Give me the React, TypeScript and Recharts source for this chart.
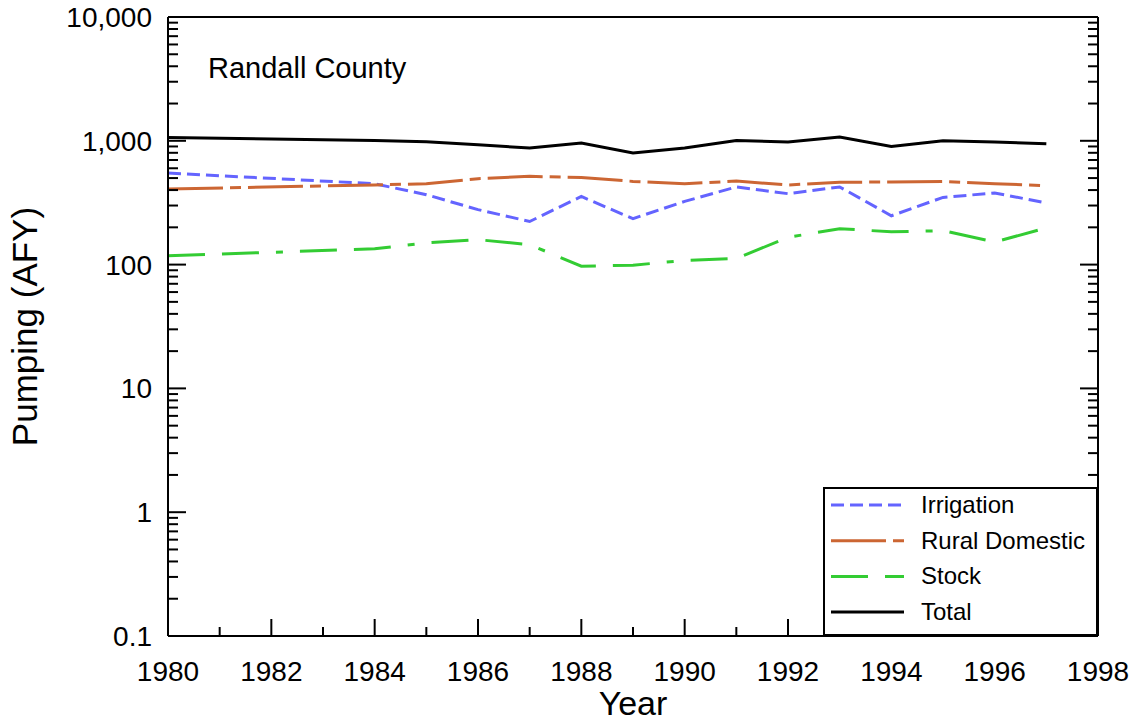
import React from 'react';
import { LineChart, Line, XAxis, YAxis, Legend } from 'recharts';

// Randall County pumping, acre-feet per year (no records 1981-1983)
const years = [1980, 1984, 1985, 1986, 1987, 1988, 1989, 1990, 1991, 1992, 1993, 1994, 1995, 1996, 1997];
const irrigation = [549, 450, 367, 278, 223, 355, 235, 324, 424, 374, 424, 248, 349, 379, 315];
const ruralDomestic = [408, 440, 450, 494, 516, 506, 470, 450, 473, 440, 462, 465, 470, 450, 434];
const stock = [118, 134, 150, 159, 145, 97, 99, 108, 112, 166, 195, 184, 188, 152, 198];
const total = [1063, 1006, 981, 928, 873, 958, 796, 873, 1006, 976, 1071, 900, 1000, 976, 946];

const majorYTicks = [0.1, 1, 10, 100, 1000, 10000];
const minorSteps = [2, 3, 4, 5, 6, 7, 8, 9];
const xTicks = [1980, 1981, 1982, 1983, 1984, 1985, 1986, 1987, 1988, 1989, 1990, 1991, 1992, 1993, 1994, 1995, 1996, 1997, 1998];
const xLabelYears = [1980, 1982, 1984, 1986, 1988, 1990, 1992, 1994, 1996, 1998];

const yTicks = majorYTicks.flatMap((m, i) =>
  i < majorYTicks.length - 1 ? [m, ...minorSteps.map(s => +(m * s).toPrecision(3))] : [m]
);

const series = [
  { key: 'irrigation', name: 'Irrigation', color: '#6464ff', dash: '13 6' },
  { key: 'rural', name: 'Rural Domestic', color: '#cc6633', dash: '55 7 11 7' },
  { key: 'stock', name: 'Stock', color: '#33cc33', dash: '37 17 37 17 7 17' },
  { key: 'total', name: 'Total', color: '#000000', dash: undefined as string | undefined },
];

const data = years.map((year, i) => ({
  year,
  irrigation: irrigation[i],
  rural: ruralDomestic[i],
  stock: stock[i],
  total: total[i],
}));

const FONT = '"Liberation Sans", Arial, Helvetica, sans-serif';
const axisLine = { stroke: '#000', strokeWidth: 2 };

const isMajorY = (v: number) => majorYTicks.some(m => Math.abs(m - v) < 1e-9);
const fmtY = (v: number) => (v >= 1000 ? v.toLocaleString('en-US') : String(v));

const LeftTick = ({ x, y, payload }: any) => {
  const major = isMajorY(payload.value);
  return (
    <g>
      <line x1={x} y1={y} x2={x + (major ? 18 : 10)} y2={y} stroke="#000" strokeWidth={2} />
      {major && (
        <text x={x - 16} y={y + 10} textAnchor="end" fontSize={28} fontFamily={FONT} fill="#000">
          {fmtY(payload.value)}
        </text>
      )}
    </g>
  );
};

const RightTick = ({ x, y, payload }: any) => {
  const major = isMajorY(payload.value);
  return <line x1={x} y1={y} x2={x - (major ? 18 : 10)} y2={y} stroke="#000" strokeWidth={2} />;
};

const BottomTick = ({ x, y, payload }: any) => {
  const major = xLabelYears.includes(payload.value);
  return (
    <g>
      <line x1={x} y1={y} x2={x} y2={y - (major ? 17 : 9)} stroke="#000" strokeWidth={2} />
      {major && (
        <text x={x} y={y + 45} textAnchor="middle" fontSize={28} fontFamily={FONT} fill="#000">
          {payload.value}
        </text>
      )}
    </g>
  );
};

const TopTick = ({ x, y, payload }: any) => {
  const major = xLabelYears.includes(payload.value);
  return <line x1={x} y1={y} x2={x} y2={y + (major ? 17 : 9)} stroke="#000" strokeWidth={2} />;
};

const LegendBox = () => (
  <svg width={275} height={149} style={{ display: 'block' }}>
    <rect x={1} y={1} width={273} height={147} fill="#fff" stroke="#000" strokeWidth={2} />
    {series.map((s, i) => (
      <g key={s.key}>
        <line x1={8} x2={81} y1={18 + i * 35.7} y2={18 + i * 35.7} stroke={s.color} strokeWidth={3} strokeDasharray={s.dash} />
        <text x={98} y={26 + i * 35.7} fontSize={24} fontFamily={FONT} fill="#000">
          {s.name}
        </text>
      </g>
    ))}
  </svg>
);

export default function App() {
  return (
    <div style={{ margin: -8, width: 1137, height: 725 }}>
      <LineChart width={1137} height={725} data={data} margin={{ top: 0, right: 0, bottom: 0, left: 0 }}>
        <XAxis
          xAxisId="bottom"
          dataKey="year"
          type="number"
          domain={[1980, 1998]}
          ticks={xTicks}
          interval={0}
          tickSize={0}
          tickMargin={0}
          tickLine={false}
          tick={BottomTick}
          axisLine={axisLine}
          height={89}
          label={(p: any) => {
            const vb = p.viewBox || { x: 168, y: 636, width: 930 };
            return (
              <text x={vb.x + vb.width / 2} y={vb.y + 79} textAnchor="middle" fontSize={34} fontFamily={FONT} fill="#000">
                Year
              </text>
            );
          }}
        />
        <XAxis
          xAxisId="top"
          orientation="top"
          type="number"
          domain={[1980, 1998]}
          ticks={xTicks}
          interval={0}
          tickSize={0}
          tickMargin={0}
          tickLine={false}
          tick={TopTick}
          axisLine={axisLine}
          height={17}
          label={(p: any) => {
            const vb = p.viewBox || { x: 168, y: 0 };
            return (
              <text x={vb.x + 40} y={vb.y + 78} fontSize={29} fontFamily={FONT} fill="#000">
                Randall County
              </text>
            );
          }}
        />
        <YAxis
          yAxisId="left"
          type="number"
          scale="log"
          domain={[0.1, 10000]}
          allowDataOverflow
          ticks={yTicks}
          interval={0}
          tickSize={0}
          tickMargin={0}
          tickLine={false}
          tick={LeftTick}
          axisLine={axisLine}
          width={168}
          label={(p: any) => {
            const vb = p.viewBox || { x: 0, y: 17, height: 619 };
            const cx = vb.x + 37;
            const cy = vb.y + vb.height / 2;
            return (
              <text x={cx} y={cy} transform={`rotate(-90, ${cx}, ${cy})`} textAnchor="middle" fontSize={35} fontFamily={FONT} fill="#000">
                Pumping (AFY)
              </text>
            );
          }}
        />
        <YAxis
          yAxisId="right"
          orientation="right"
          type="number"
          scale="log"
          domain={[0.1, 10000]}
          allowDataOverflow
          ticks={yTicks}
          interval={0}
          tickSize={0}
          tickMargin={0}
          tickLine={false}
          tick={RightTick}
          axisLine={axisLine}
          width={39}
        />
        {series.map(s => (
          <Line
            key={s.key}
            xAxisId="bottom"
            yAxisId="left"
            type="linear"
            dataKey={s.key}
            name={s.name}
            stroke={s.color}
            strokeWidth={3}
            strokeDasharray={s.dash}
            dot={false}
            activeDot={false}
            isAnimationActive={false}
          />
        ))}
        <Legend
          layout="horizontal"
          align="center"
          verticalAlign="middle"
          content={LegendBox}
          wrapperStyle={{ position: 'absolute', left: 823, top: 487, width: 275, height: 149, margin: 0, padding: 0 }}
        />
      </LineChart>
    </div>
  );
}
